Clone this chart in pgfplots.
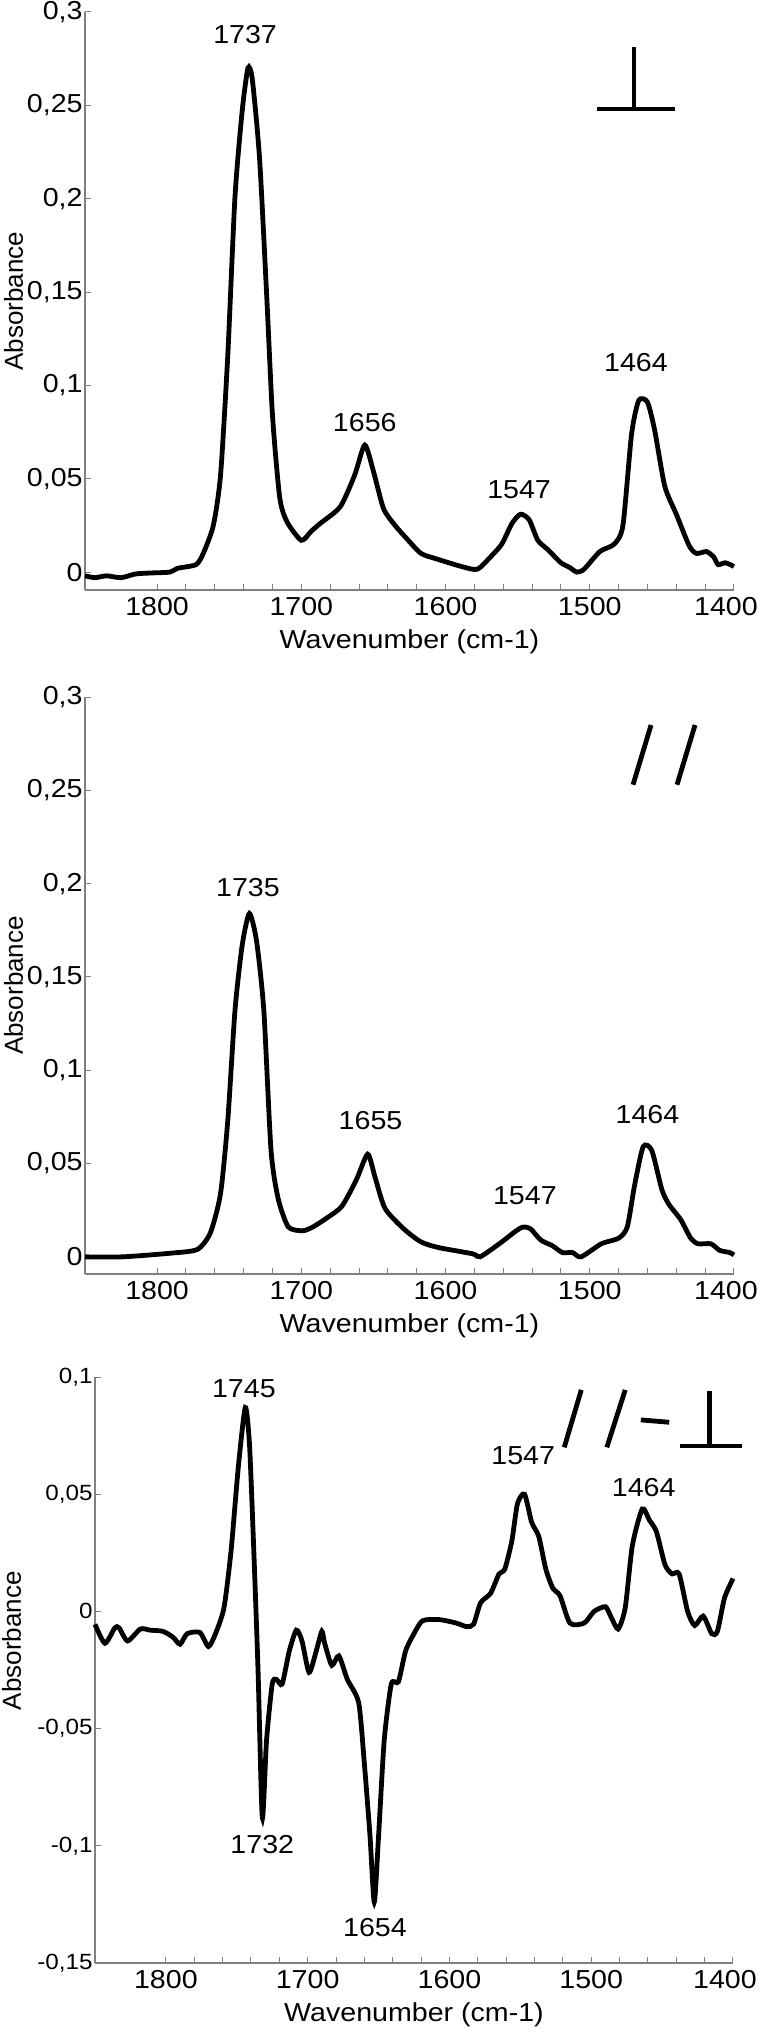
\documentclass[border=0pt]{standalone}
\usepackage{fontspec}
\setmainfont[FakeStretch=1.1]{Liberation Sans}
\newfontfamily\plainsans{Liberation Sans}
\usepackage{pgfplots}
\pgfplotsset{compat=1.18}

\pgfplotsset{
  irspec/.style={
    scale only axis, clip=false,
    axis x line=bottom, axis y line=left,
    axis line style={-, black!50, line width=0.6pt},
    x dir=reverse, xmin=1400, xmax=1850,
    xtick={1400,1500,1600,1700,1800}, minor x tick num=4,
    xticklabels={{\hspace*{-8pt}1400},1500,1600,1700,1800},
    scaled x ticks=false, scaled y ticks=false,
    tick align=inside, major tick length=3pt, minor tick length=3pt,
    tick style={black!50, line width=0.5pt},
    /pgf/number format/assume math mode=true,
    /pgf/number format/use comma,
    /pgf/number format/1000 sep={},
    yticklabel style={/pgf/number format/fixed, inner sep=1pt},
    ticklabel style={font=\fontsize{13}{15}\selectfont},
    xlabel style={font=\fontsize{13}{15}\selectfont},
    xlabel={Wavenumber (cm-1)},
    ylabel={Absorbance},
  },
  spec/.style={black, line width=2.4pt, smooth, tension=0.4},
}
\tikzset{
  peak/.style={font=\fontsize{13}{15}\selectfont},
  sym/.style={line width=2.4pt, black},
}

\begin{document}
\begin{tikzpicture}
\useasboundingbox (0,0) rectangle (380pt,-1019pt);

% --- perpendicular ---
\begin{axis}[irspec, at={(42.5pt,-6pt)}, anchor=north west,
  width=324.5pt, height=289pt,
  ymin=-0.0096, ymax=0.3, ytick={0,0.05,0.1,0.15,0.2,0.25,0.3},
  ylabel style={at={(axis description cs:0,0.5)}, anchor=base,
    yshift=31pt, font=\plainsans\fontsize{13}{15}\selectfont}]
\addplot[spec] coordinates {
(1850,-0.002)(1843,-0.003)(1835,-0.002)(1825,-0.003)(1815,-0.001)(1805,-0.0005)
(1791,0)(1786,0.002)(1773,0.004)(1768,0.010)(1761,0.025)(1756,0.052)(1751,0.116)
(1746,0.201)(1741,0.247)(1737,0.270)(1734,0.264)(1729,0.222)(1724,0.148)(1720,0.084)
(1715,0.040)(1710,0.027)(1700,0.017)(1693,0.022)(1687,0.026)(1673,0.035)(1663,0.052)
(1656,0.068)(1650,0.054)(1643,0.034)(1635,0.025)(1627,0.018)(1617,0.010)(1606,0.007)
(1589,0.003)(1578,0.0015)(1569,0.008)(1561,0.015)(1554,0.026)(1548,0.031)(1542,0.028)
(1536,0.017)(1529,0.012)(1520,0.005)(1514,0.0025)(1509,0)(1504,0.0015)(1493,0.011)
(1483,0.015)(1477,0.025)(1471,0.074)(1466,0.092)(1460,0.091)(1455,0.076)(1448,0.046)
(1440,0.031)(1431,0.014)(1426,0.010)(1419,0.011)(1414,0.008)(1411,0.004)(1406,0.005)
(1400,0.003)};
\node[peak] at (axis cs:1739,0.288) {1737};
\node[peak] at (axis cs:1656,0.080) {1656};
\node[peak] at (axis cs:1549,0.044) {1547};
\node[peak] at (axis cs:1468,0.112) {1464};
\draw[sym] (axis cs:1469.4,0.281) -- (axis cs:1469.4,0.248);
\draw[sym] (axis cs:1495,0.248) -- (axis cs:1441,0.248);
\end{axis}

% --- parallel ---
\begin{axis}[irspec, at={(42.5pt,-348.5pt)}, anchor=north west,
  width=324.5pt, height=288.5pt,
  ymin=-0.0092, ymax=0.3, ytick={0,0.05,0.1,0.15,0.2,0.25,0.3},
  ylabel style={at={(axis description cs:0,0.5)}, anchor=base,
    yshift=31pt, font=\plainsans\fontsize{13}{15}\selectfont}]
\addplot[spec] coordinates {
(1850,0)(1824,0)(1790,0.002)(1772,0.004)(1763,0.013)(1756,0.034)(1751,0.073)
(1746,0.132)(1741,0.167)(1736,0.184)(1731,0.169)(1726,0.132)(1721,0.057)(1716,0.031)
(1709,0.016)(1699,0.014)(1692,0.016)(1682,0.021)(1672,0.027)(1662,0.041)(1654,0.055)
(1649,0.043)(1642,0.026)(1629,0.015)(1617,0.008)(1605,0.005)(1581,0.0016)(1576,0)
(1561,0.008)(1551,0.014)(1546,0.016)(1541,0.015)(1534,0.009)(1526,0.006)(1519,0.0023)
(1512,0.0023)(1506,0)(1492,0.007)(1480,0.010)(1474,0.016)(1469,0.038)(1463,0.059)
(1457,0.057)(1450,0.036)(1445,0.028)(1437,0.020)(1430,0.010)(1425,0.007)(1416,0.007)
(1410,0.0035)(1403,0.0023)(1400,0.001)};
\node[peak] at (axis cs:1737,0.198) {1735};
\node[peak] at (axis cs:1652,0.073) {1655};
\node[peak] at (axis cs:1545,0.033) {1547};
\node[peak] at (axis cs:1460,0.076) {1464};
\draw[sym] (axis cs:1470,0.253) -- (axis cs:1457.5,0.285);
\draw[sym] (axis cs:1439.5,0.253) -- (axis cs:1427,0.285);
\end{axis}

% --- difference ---
\begin{axis}[irspec, at={(47.5pt,-688.5pt)}, anchor=north west,
  width=319pt, height=293pt,
  ymin=-0.15, ymax=0.1, ytick={-0.15,-0.1,-0.05,0,0.05,0.1},
  yticklabel style={font=\fontsize{11}{13}\selectfont},
  ylabel style={at={(axis description cs:0,0.55)}, anchor=base,
    yshift=37pt, font=\plainsans\fontsize{13}{15}\selectfont}]
\addplot[spec] coordinates {
(1850,-0.0055)(1843,-0.0136)(1836,-0.007)(1833,-0.007)(1827,-0.0126)(1818,-0.0075)
(1811,-0.008)(1802,-0.0085)(1795,-0.011)(1790,-0.014)(1785,-0.0095)(1776,-0.009)
(1770,-0.015)(1765,-0.0095)(1759,0.0016)(1754,0.026)(1749,0.061)(1744,0.087)
(1741,0.071)(1738,0.026)(1735,-0.025)(1732,-0.088)(1729,-0.055)(1725,-0.031)
(1722,-0.029)(1718,-0.031)(1713,-0.017)(1708,-0.008)(1704,-0.0126)(1699,-0.026)
(1694,-0.017)(1690,-0.0085)(1688,-0.0136)(1683,-0.023)(1678,-0.019)(1672,-0.029)
(1664,-0.039)(1660,-0.065)(1656,-0.096)(1653,-0.124)(1650,-0.096)(1646,-0.055)
(1641,-0.031)(1636,-0.030)(1631,-0.017)(1626,-0.0106)(1619,-0.004)(1607,-0.0035)
(1595,-0.005)(1588,-0.0065)(1583,-0.0055)(1578,0.0037)(1571,0.0077)(1565,0.016)
(1561,0.018)(1556,0.030)(1552,0.046)(1547,0.050)(1542,0.038)(1537,0.032)(1532,0.018)
(1527,0.0098)(1522,0.0067)(1515,-0.005)(1505,-0.005)(1498,0)(1490,0.002)(1486,-0.0024)
(1481,-0.0075)(1476,0.0016)(1471,0.028)(1464,0.0437)(1459,0.039)(1454,0.034)
(1448,0.020)(1443,0.016)(1438,0.016)(1432,0)(1427,-0.006)(1421,-0.002)(1415,-0.0095)
(1411,-0.0085)(1406,0.0057)(1400,0.014)};
\node[peak] at (axis cs:1745,0.095) {1745};
\node[peak] at (axis cs:1732,-0.0995) {1732};
\node[peak] at (axis cs:1652.5,-0.135) {1654};
\node[peak] at (axis cs:1548,0.0665) {1547};
\node[peak] at (axis cs:1463,0.0527) {1464};
\draw[sym] (axis cs:1519,0.070) -- (axis cs:1507,0.0945);
\draw[sym] (axis cs:1489,0.070) -- (axis cs:1476,0.0945);
\draw[sym] (axis cs:1465,0.0817) -- (axis cs:1445,0.0807);
\draw[sym] (axis cs:1416.4,0.094) -- (axis cs:1416.4,0.0706);
\draw[sym] (axis cs:1437.6,0.0706) -- (axis cs:1393.8,0.0706);
\end{axis}
\end{tikzpicture}
\end{document}
